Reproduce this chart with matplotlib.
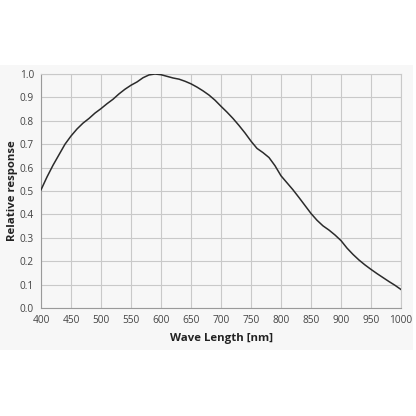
import matplotlib
matplotlib.use("Agg")
import matplotlib.pyplot as plt
from matplotlib.patches import Rectangle

# spectral response
wavelength = [400, 410, 420, 430, 440, 450, 460, 470, 480, 490,
              500, 510, 520, 530, 540, 550, 560, 570, 580, 590,
              600, 610, 620, 630, 640, 650, 660, 670, 680, 690,
              700, 710, 720, 730, 740, 750, 760, 770, 780, 790,
              800, 810, 820, 830, 840, 850, 860, 870, 880, 890,
              900, 910, 920, 930, 940, 950, 960, 970, 980, 990, 1000]
response = [0.505, 0.56, 0.61, 0.655, 0.70, 0.735, 0.765, 0.79, 0.81, 0.833,
            0.852, 0.873, 0.892, 0.915, 0.935, 0.952, 0.966, 0.984, 0.996, 1.0,
            0.997, 0.99, 0.983, 0.978, 0.969, 0.958, 0.944, 0.928, 0.91, 0.888,
            0.862, 0.837, 0.81, 0.78, 0.748, 0.713, 0.682, 0.664, 0.643, 0.608,
            0.565, 0.535, 0.505, 0.472, 0.438, 0.404, 0.375, 0.351, 0.333, 0.312,
            0.288, 0.256, 0.229, 0.205, 0.184, 0.165, 0.147, 0.13, 0.113, 0.097, 0.079]

x_ticks = list(range(400, 1001, 50))
y_ticks = [i / 10 for i in range(11)]

plt.rcParams['font.family'] = ['Open Sans', 'DejaVu Sans']

fig = plt.figure(figsize=(4.16, 4.16), dpi=100)
fig.patch.set_facecolor('white')
# light grey panel behind the chart
panel = Rectangle((0, 1 - 350 / 416), 413 / 416, (350 - 65) / 416,
                  transform=fig.transFigure, facecolor='#f7f7f7',
                  edgecolor='none', zorder=-10)
fig.add_artist(panel)

ax = fig.add_axes([41 / 416, 1 - 308 / 416, 360 / 416, 234 / 416])
ax.set_zorder(5)
ax.set_facecolor('#f7f7f7')

ax.plot(wavelength, response, color='#2b2b2b', lw=1.1, zorder=3)

ax.set_xlim(400, 1000)
ax.set_ylim(0, 1.0)
ax.set_xticks(x_ticks)
ax.set_yticks(y_ticks)
ax.set_yticklabels([f"{v:.1f}" for v in y_ticks])
ax.grid(True, color='#c9c9c9', lw=0.8)
ax.tick_params(length=0, labelsize=7.3, colors='#444444', pad=5)

for s in ax.spines.values():
    s.set_color('#c9c9c9')
    s.set_linewidth(0.8)
ax.spines['left'].set_color('#9a9a9a')
ax.spines['bottom'].set_color('#9a9a9a')

ax.set_xlabel("Wave Length [nm]", fontsize=8.2, fontweight='bold', color='#222222', labelpad=5)
ax.set_ylabel("Relative response", fontsize=8.2, fontweight='bold', color='#222222', labelpad=1)

fig.savefig("out.png", dpi=100, facecolor=fig.get_facecolor())
